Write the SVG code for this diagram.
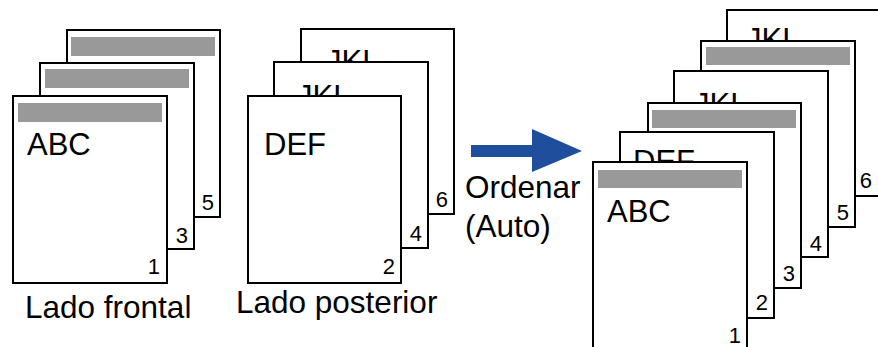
<svg xmlns="http://www.w3.org/2000/svg" width="878" height="347" viewBox="0 0 878 347">
<style>
.pg{fill:#fff;stroke:#000;stroke-width:2}
.bar{fill:#999}
text{font-family:"Liberation Sans",Arial,sans-serif;fill:#000}
.big{font-size:31px}
.num{font-size:22px;text-anchor:end}
.lbl{font-size:31.5px}
</style>
<g id="left-stack">
  <g id="l5" transform="translate(67,30)"><rect class="pg" width="153" height="187"/><rect class="bar" x="4" y="7" width="144" height="19"/><text class="num" x="147" y="180">5</text></g>
  <g id="l3" transform="translate(40,63)"><rect class="pg" width="154" height="186"/><rect class="bar" x="5" y="6" width="144" height="19"/><text class="num" x="148" y="180">3</text></g>
  <g id="l1" transform="translate(13,96)"><rect class="pg" width="154" height="187"/><rect class="bar" x="5" y="7" width="144" height="19"/><text class="big" x="14" y="59">ABC</text><text class="num" x="147" y="178">1</text></g>
  <text id="lbl-front" class="lbl" x="25" y="318">Lado frontal</text>
</g>
<g id="mid-stack">
  <g id="m6" transform="translate(301,29)"><rect class="pg" width="153" height="185"/><text class="big" x="25" y="43">JKL</text><text class="num" x="147" y="178">6</text></g>
  <g id="m4" transform="translate(274,62)"><rect class="pg" width="154" height="186"/><text class="big" x="23" y="45">JKL</text><text class="num" x="148" y="179">4</text></g>
  <g id="m2" transform="translate(248,96)"><rect class="pg" width="153" height="187"/><text class="big" x="16" y="59">DEF</text><text class="num" x="147" y="178">2</text></g>
  <text id="lbl-back" class="lbl" x="236" y="313">Lado posterior</text>
</g>
<g id="connectors">
  <path id="arrow" d="M471,145 H532 V129 L582,151 L532,172 V157 H471 Z" fill="#1f4f9c"/>
</g>
<g id="arrow-label">
  <text class="lbl" x="465" y="198">Ordenar</text>
  <text class="lbl" x="465" y="237">(Auto)</text>
</g>
<g id="right-stack">
  <g id="r6" transform="translate(727,10)"><rect class="pg" width="160" height="186"/><text class="big" x="19" y="40">JKL</text><text class="num" x="145" y="178">6</text></g>
  <g id="r5" transform="translate(701,41)"><rect class="pg" width="154" height="186"/><rect class="bar" x="5" y="6" width="144" height="18"/><text class="num" x="148" y="179">5</text></g>
  <g id="r4" transform="translate(674,71)"><rect class="pg" width="154" height="186"/><text class="big" x="20" y="44">JKL</text><text class="num" x="148" y="180">4</text></g>
  <g id="r3" transform="translate(648,103)"><rect class="pg" width="153" height="185"/><rect class="bar" x="4" y="7" width="144" height="18"/><text class="num" x="147" y="178">3</text></g>
  <g id="r2" transform="translate(620,132)"><rect class="pg" width="154" height="186"/><text class="big" x="13" y="40">DEF</text><text class="num" x="148" y="178">2</text></g>
  <g id="r1" transform="translate(593,162)"><rect class="pg" width="154" height="200"/><rect class="bar" x="5" y="8" width="144" height="18"/><text class="big" x="14" y="60">ABC</text><text class="num" x="148" y="181">1</text></g>
</g>
</svg>
